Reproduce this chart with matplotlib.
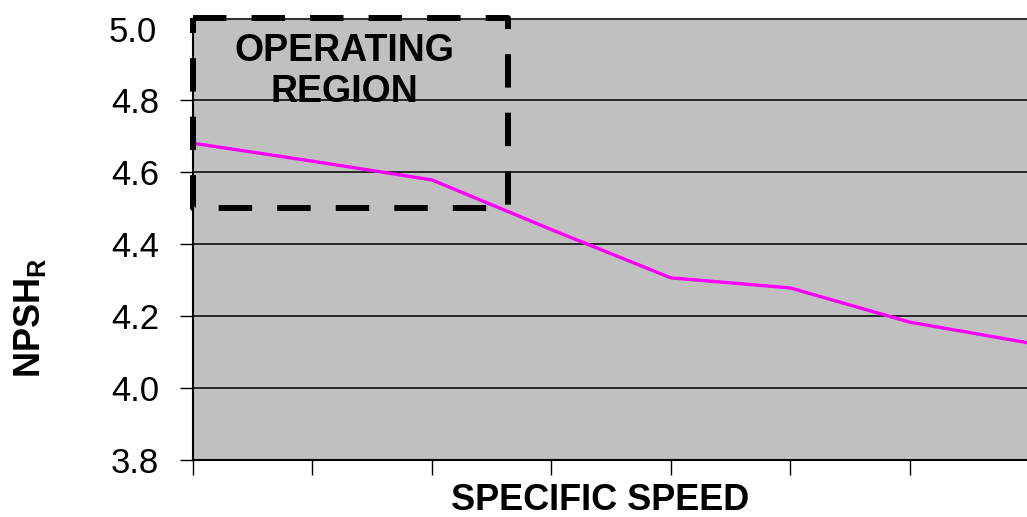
import matplotlib.pyplot as plt
from matplotlib.ticker import FixedLocator

plt.rcParams["font.family"] = ["Liberation Sans", "DejaVu Sans"]
plt.rcParams["mathtext.fontset"] = "custom"
plt.rcParams["mathtext.bf"] = "Liberation Sans:bold"
plt.rcParams["mathtext.rm"] = "Liberation Sans"

# one point per tick on the category axis
speed_idx = [0, 1, 2, 3, 4, 5, 6, 7]
npsh_r = [4.68, 4.63, 4.578, 4.44, 4.306, 4.278, 4.183, 4.125]
y_ticks = [3.8, 4.0, 4.2, 4.4, 4.6, 4.8, 5.0]
y_labels = ["3.8", "4.0", "4.2", "4.4", "4.6", "4.8", "5.0"]

# operating region box (category units / NPSH units)
box_x = [0, 2.64]
box_y = [4.5, 5.028]


def main():
    W, H = 1027, 517
    fig = plt.figure(figsize=(W / 100, H / 100), dpi=100)
    ax = fig.add_axes([193 / W, (H - 460) / H, (1029 - 193) / W, (460 - 19) / H])
    ax.set_facecolor("#c0c0c0")

    ax.set_xlim(0, 7)
    ax.set_ylim(3.8, 5.025)

    # horizontal gridlines (no line at 5.0, the frame top sits just above it)
    for v in y_ticks[1:-1]:
        ax.axhline(v, color="black", lw=1.1, zorder=1)

    ax.plot(speed_idx, npsh_r, color="#ff00ff", lw=2.4, zorder=3)

    ax.yaxis.set_major_locator(FixedLocator(y_ticks[:-1]))
    ax.set_yticklabels(y_labels[:-1])
    ax.text(-0.3, 4.998, y_labels[-1], ha="right", va="center_baseline", fontsize=25,
            transform=ax.transData, clip_on=False)
    ax.set_xticks(speed_idx)
    ax.set_xticklabels([])
    ax.tick_params(axis="y", direction="out", length=9.5, width=1, labelsize=25, pad=15)
    ax.tick_params(axis="x", direction="out", length=11, width=1)

    for s in ["left", "bottom"]:
        ax.spines[s].set_linewidth(1.5)
        ax.spines[s].set_color("black")
    ax.spines["top"].set_color("#333333")
    ax.spines["top"].set_linewidth(1.5)
    ax.spines["right"].set_visible(False)

    # dashed operating-region box
    x0, x1 = box_x
    y0, y1 = box_y
    ax.plot([x0, x1, x1, x0, x0], [y1, y1, y0, y0, y1], color="black", lw=4.3,
            linestyle=(0, (5.6, 4.2)), dash_capstyle="butt", clip_on=False, zorder=4)
    ax.text(1.27, 4.878, "OPERATING\nREGION", ha="center", va="center",
            fontsize=27, fontweight="bold", linespacing=1.18, zorder=5)

    fig.text(600 / W, 1 - 500 / H, "SPECIFIC SPEED", ha="center", va="center",
             fontsize=26, fontweight="bold")
    fig.text(30 / W, 1 - 318 / H, r"$\mathbf{NPSH_R}$", ha="center", va="center",
             rotation=90, fontsize=26)

    fig.savefig("out.png", dpi=100)


if __name__ == "__main__":
    main()
